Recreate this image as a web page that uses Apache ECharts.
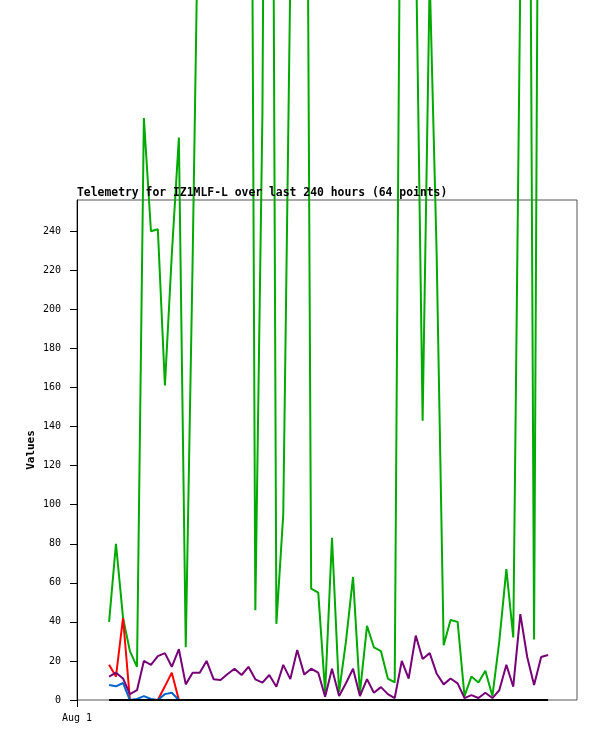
<!DOCTYPE html>
<html>
<head>
<meta charset="utf-8">
<title>Telemetry IZ1MLF-L</title>
<script src="https://cdn.jsdelivr.net/npm/echarts@6.0.0/dist/echarts.min.js"></script>
<style>
	html, body { margin: 0; padding: 0; background: #fff; }
	#chart { width: 597px; height: 741px; }
</style>
</head>
<body>
<div id="chart"></div>
<script>
// hours since Aug 1 00:00 for each of the 64 samples
const hours = [
	15.4, 18.7, 22.1, 25.4, 28.8, 32.1, 35.5, 38.8, 42.2, 45.5,
	48.9, 52.2, 55.5, 58.9, 62.2, 65.6, 68.9, 72.3, 75.6, 79.0,
	82.3, 85.6, 89.0, 92.3, 95.7, 99.0, 102.4, 105.7, 109.1, 112.4,
	115.8, 119.1, 122.4, 125.8, 129.1, 132.5, 135.8, 139.2, 142.5, 145.9,
	149.2, 152.5, 155.9, 159.2, 162.6, 165.9, 169.3, 172.6, 176.0, 179.3,
	182.7, 186.0, 189.3, 192.7, 196.0, 199.4, 202.7, 206.1, 209.4, 212.8,
	216.1, 219.4, 222.8, 226.1
];

// telemetry channels
const greenValues = [
	40, 80, 42, 25, 17, 298, 240, 241, 161, 228,
	288, 27, 225, 458, 600, 700, 650, 750, 700, 780,
	813, 46, 300, 900, 39, 95, 371, 600, 740, 57,
	55, 4, 83, 4, 30, 63, 3.5, 38, 27, 25,
	11, 9, 540, 600, 394, 143, 370, 230, 28, 41,
	40, 2, 12, 9, 15, 2, 30, 67, 32, 370,
	725, 31, 747, 600
];
const redValues = [
	18, 12, 42, 0, 0, 0, 0, 0, 7, 14,
	0, 0, 0, 0, 0, 0, 0, 0, 0, 0,
	0, 0, 0, 0, 0, 0, 0, 0, 0, 0,
	0, 0, 0, 0, 0, 0, 0, 0, 0, 0,
	0, 0, 0, 0, 0, 0, 0, 0, 0, 0,
	0, 0, 0, 0, 0, 0, 0, 0, 0, 0,
	0, 0, 0, 0
];
const blueValues = [
	7.7, 7, 8.7, 0, 0.5, 2, 0.5, 0, 3, 3.7,
	0, 0, 0, 0, 0, 0, 0, 0, 0, 0,
	0, 0, 0, 0, 0, 0, 0, 0, 0, 0,
	0, 0, 0, 0, 0, 0, 0, 0, 0, 0,
	0, 0, 0, 0, 0, 0, 0, 0, 0, 0,
	0, 0, 0, 0, 0, 0, 0, 0, 0, 0,
	0, 0, 0, 0
];
const purpleValues = [
	12, 14, 11, 3, 5, 20, 18, 22.5, 24, 17,
	26, 8, 14, 14, 20, 10.6, 10.2, 13.3, 16, 12.8,
	17, 10.6, 8.9, 12.8, 6.8, 18, 10.7, 25.6, 13, 16,
	14, 1.7, 16, 2, 8.6, 16, 2, 10.7, 3.7, 6.6,
	3, 1, 20, 11, 33, 21, 24, 13.6, 8, 11,
	8.5, 1, 2.5, 1, 3.7, 1, 5, 18, 6.8, 44,
	22, 7.7, 22, 23
];
const blackValues = [
	0, 0, 0, 0, 0, 0, 0, 0, 0, 0,
	0, 0, 0, 0, 0, 0, 0, 0, 0, 0,
	0, 0, 0, 0, 0, 0, 0, 0, 0, 0,
	0, 0, 0, 0, 0, 0, 0, 0, 0, 0,
	0, 0, 0, 0, 0, 0, 0, 0, 0, 0,
	0, 0, 0, 0, 0, 0, 0, 0, 0, 0,
	0, 0, 0, 0
];

const yTicks = [0, 20, 40, 60, 80, 100, 120, 140, 160, 180, 200, 220, 240];
const xTicks = [0];
const xTickLabels = ['Aug 1'];

const FONT = 'DejaVu Sans Mono';

function pairUp(values) {
	return values.map((v, i) => [hours[i], v]);
}

function makeLine(name, color, values) {
	return {
		name: name,
		type: 'line',
		data: pairUp(values),
		symbol: 'none',
		clip: false,
		silent: true,
		lineStyle: { color: color, width: 2 },
		itemStyle: { color: color }
	};
}

const chart = echarts.init(document.getElementById('chart'), null, { renderer: 'canvas' });

chart.setOption({
	animation: false,
	backgroundColor: '#fff',
	title: {
		text: 'Telemetry for IZ1MLF-L over last 240 hours (64 points)',
		left: 77,
		top: 188,
		padding: 0,
		textStyle: {
			fontFamily: FONT,
			fontSize: 11.4,
			fontWeight: 'bold',
			color: '#000'
		}
	},
	grid: {
		left: 77,
		right: 20,
		top: 200,
		bottom: 41,
		show: true,
		borderColor: '#555',
		borderWidth: 1,
		backgroundColor: 'transparent'
	},
	xAxis: {
		type: 'value',
		min: 0,
		max: 240,
		axisLine: { show: false },
		splitLine: { show: false },
		axisTick: {
			show: true,
			length: 7,
			customValues: xTicks,
			lineStyle: { color: '#000', width: 1 }
		},
		axisLabel: {
			customValues: xTicks,
			formatter: (v) => xTickLabels[xTicks.indexOf(v)] || '',
			margin: 13,
			fontFamily: FONT,
			fontSize: 10,
			color: '#000'
		}
	},
	yAxis: {
		type: 'value',
		min: 0,
		max: 256,
		interval: 20,
		name: 'Values',
		nameLocation: 'middle',
		nameGap: 40,
		nameMoveOverlap: false,
		nameTextStyle: {
			fontFamily: FONT,
			fontSize: 11,
			fontWeight: 'bold',
			color: '#000'
		},
		axisLine: { show: true, lineStyle: { color: '#000', width: 1 } },
		splitLine: { show: false },
		axisTick: {
			show: true,
			length: 7,
			customValues: yTicks,
			lineStyle: { color: '#000', width: 1 }
		},
		axisLabel: {
			customValues: yTicks,
			margin: 16,
			fontFamily: FONT,
			fontSize: 10,
			color: '#000'
		}
	},
	series: [
		makeLine('ch2', '#00aa00', greenValues),
		makeLine('ch1', '#ff0000', redValues),
		makeLine('ch3', '#0066cc', blueValues),
		makeLine('ch4', '#770077', purpleValues),
		makeLine('ch5', '#000000', blackValues)
	]
});
</script>
</body>
</html>
